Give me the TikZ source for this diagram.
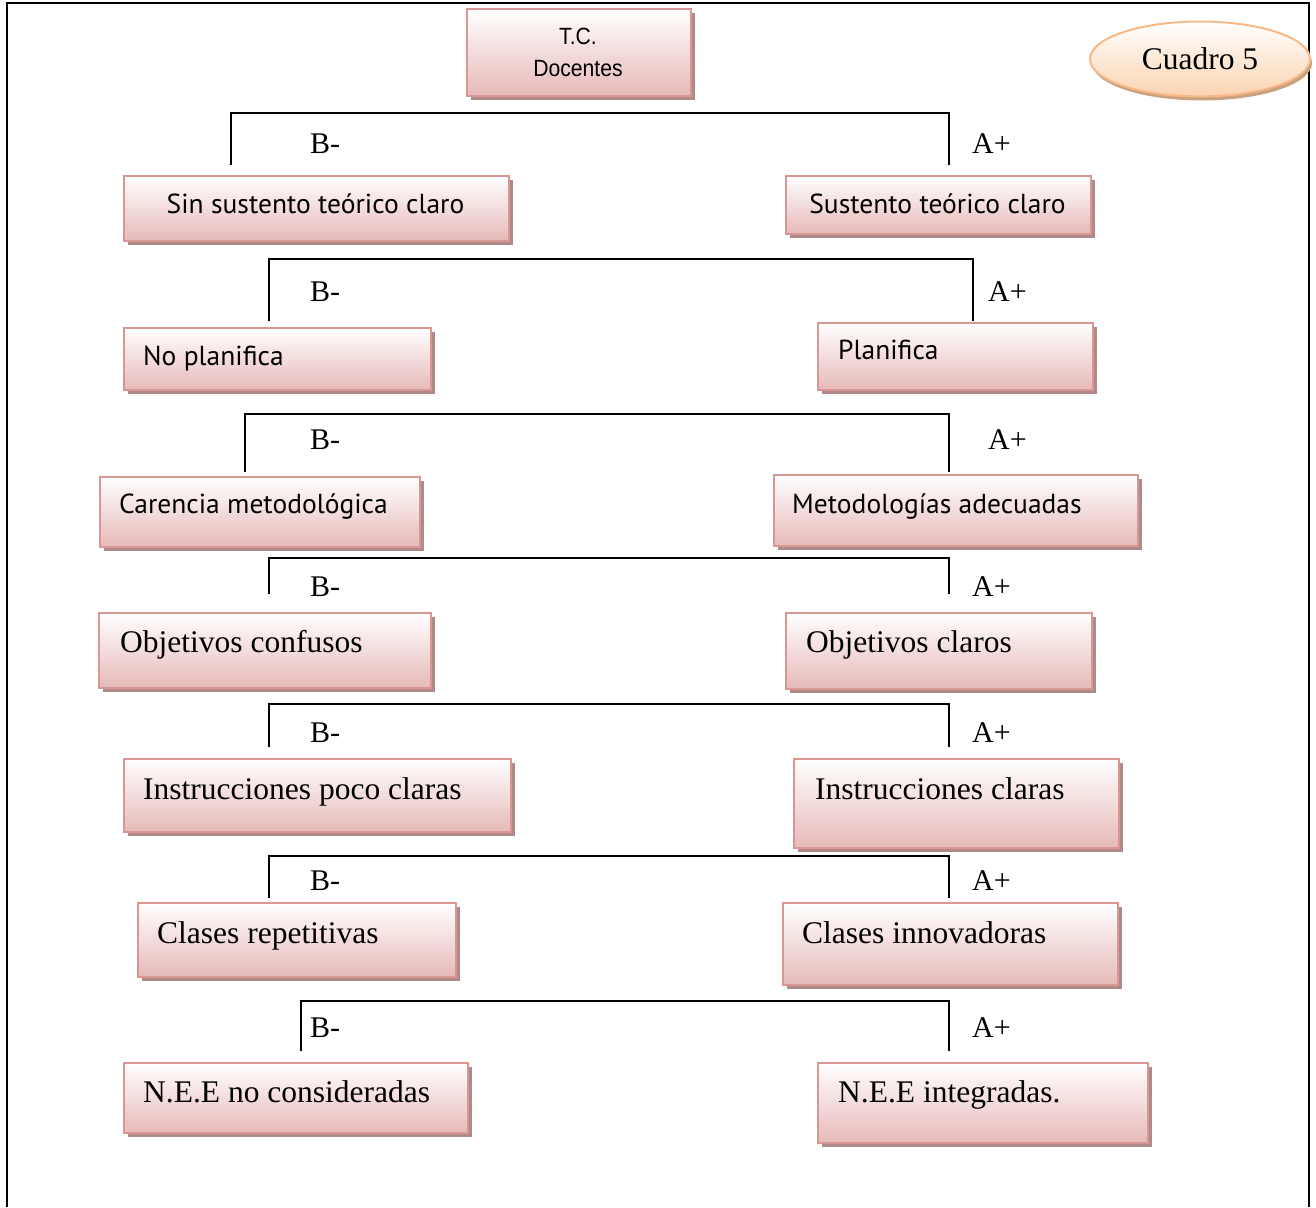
\documentclass[tikz,border=0pt]{standalone}
\usepackage{fontspec}
\setmainfont{Liberation Serif}
\newfontfamily\cajasans{PT Sans}
\newfontfamily\tcfont{Liberation Sans}[FakeStretch=0.9]
\usetikzlibrary{shapes.geometric,shadows}

\definecolor{bordecaja}{HTML}{D99694}
\definecolor{rosacaja}{HTML}{E6B9B8}
\definecolor{sombracaja}{HTML}{B08A89}
\definecolor{bordeovalo}{HTML}{F6B987}
\definecolor{durazno}{HTML}{FBD3B0}
\definecolor{sombraovalo}{HTML}{C9A27F}

\tikzset{
  caja/.style={draw=bordecaja, line width=2pt, top color=white, bottom color=rosacaja,
    anchor=north west, inner sep=0pt,
    drop shadow={fill=sombracaja, opacity=1, shadow xshift=4pt, shadow yshift=-4pt}},
  ovalo/.style={ellipse, draw=bordeovalo, line width=2pt, top color=white, bottom color=durazno,
    inner sep=0pt, font=\fontsize{31.5}{36}\selectfont,
    drop shadow={fill=sombraovalo, opacity=1, shadow xshift=2pt, shadow yshift=-4pt}},
  serif/.style={font=\fontsize{31.5}{36}\selectfont, anchor=base west, inner sep=0pt},
  sans/.style={font=\cajasans\fontsize{27.5}{32}\selectfont, anchor=base west, inner sep=0pt},
  tctexto/.style={font=\tcfont\fontsize{23.5}{27}\selectfont, anchor=base, inner sep=0pt},
  rama/.style={font=\fontsize{30}{34}\selectfont, anchor=west, inner sep=0pt},
  conector/.style={line width=2pt}
}

\begin{document}
\begin{tikzpicture}[x=1pt, y=-1pt]
    \useasboundingbox (0,0) rectangle (1316,1207);

    % marco
    \draw[line width=2pt] (7,1207) -- (7,3) -- (1309,3) -- (1309,1207);

    % titulo
    \node[caja, minimum width=224pt, minimum height=87pt] (tc) at (466,8) {};
    \node[tctexto] (tc1) at (578,45) {T.C.};
    \node[tctexto] (tc2) at (578,76) {Docentes};

    \node[ovalo, minimum width=220pt, minimum height=75pt] (cuadro) at (1200,59) {Cuadro 5};

    % ramas B- / A+
    \foreach \n/\xl/\xr/\yh/\yb/\ya/\xa in {1/231/949/113/165/144/972, 2/269/973/259/321/292/988,
        3/245/949/414/472/440/988, 4/269/949/558/594/587/972, 5/269/949/704/747/733/972,
        6/269/949/856/898/881/972, 7/301/949/1001/1051/1028/972}{
      \coordinate (h\n l) at (\xl,\yh);
      \coordinate (h\n r) at (\xr,\yh);
      \coordinate (v\n l) at (\xl,\yb);
      \coordinate (v\n r) at (\xr,\yb);
      \draw[conector] (v\n l) -- (h\n l) -- (h\n r) -- (v\n r);
      \node[rama] (menos\n) at (310,\ya) {B-};
      \node[rama] (mas\n) at (\xa,\ya) {A+};
    }

    % fila 1
    \node[caja, minimum width=385pt, minimum height=65pt] (c1l) at (123,175) {};
    \node[sans, anchor=base] (t1l) at (315.5,213) {Sin sustento teórico claro};
    \node[caja, minimum width=305pt, minimum height=58pt] (c1r) at (785,175) {};
    \node[sans, anchor=base] (t1r) at (937.5,213) {Sustento teórico claro};

    % fila 2
    \node[caja, minimum width=307pt, minimum height=62pt] (c2l) at (123,327) {};
    \node[sans] (t2l) at (143,365) {No planifica};
    \node[caja, minimum width=275pt, minimum height=67pt] (c2r) at (817,322) {};
    \node[sans] (t2r) at (838,359) {Planifica};

    % fila 3
    \node[caja, minimum width=320pt, minimum height=70pt] (c3l) at (99,476) {};
    \node[sans] (t3l) at (119,513) {Carencia metodológica};
    \node[caja, minimum width=364pt, minimum height=71pt] (c3r) at (773,474) {};
    \node[sans] (t3r) at (792,513) {Metodologías adecuadas};

    % fila 4
    \node[caja, minimum width=332pt, minimum height=75pt] (c4l) at (98,612) {};
    \node[serif] (t4l) at (120,652) {Objetivos confusos};
    \node[caja, minimum width=306pt, minimum height=76pt] (c4r) at (785,612) {};
    \node[serif] (t4r) at (806,652) {Objetivos claros};

    % fila 5
    \node[caja, minimum width=387pt, minimum height=73pt] (c5l) at (123,758) {};
    \node[serif] (t5l) at (143,799) {Instrucciones poco claras};
    \node[caja, minimum width=325pt, minimum height=89pt] (c5r) at (793,758) {};
    \node[serif] (t5r) at (815,799) {Instrucciones claras};

    % fila 6
    \node[caja, minimum width=318pt, minimum height=74pt] (c6l) at (137,902) {};
    \node[serif] (t6l) at (157,943) {Clases repetitivas};
    \node[caja, minimum width=335pt, minimum height=82pt] (c6r) at (782,902) {};
    \node[serif] (t6r) at (802,943) {Clases innovadoras};

    % fila 7
    \node[caja, minimum width=344pt, minimum height=70pt] (c7l) at (123,1062) {};
    \node[serif] (t7l) at (143,1102) {N.E.E no consideradas};
    \node[caja, minimum width=330pt, minimum height=80pt] (c7r) at (817,1062) {};
    \node[serif] (t7r) at (838,1102) {N.E.E integradas.};
\end{tikzpicture}
\end{document}
